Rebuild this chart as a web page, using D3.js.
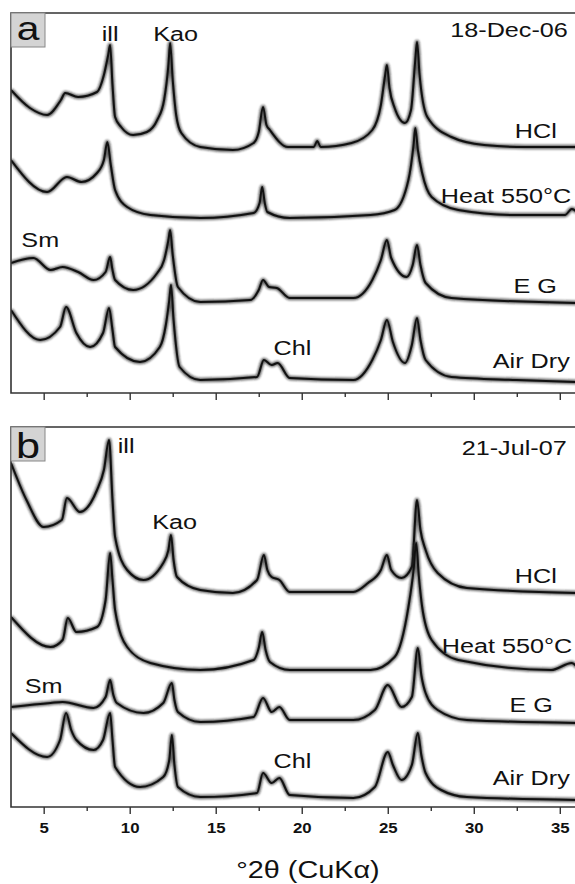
<!DOCTYPE html>
<html>
<head>
<meta charset="utf-8">
<script src="https://cdn.jsdelivr.net/npm/d3@7/dist/d3.min.js"></script>
<style>
  body { margin: 0; background: #fff; }
  svg { display: block; font-family: Arial, "Liberation Sans", sans-serif; }
</style>
</head>
<body>
<div id="chart"></div>
<script>
// XRD patterns, [°2θ, intensity (a.u., offset included)]
const twoThetaDomain = [3.1, 36];
const majorTicks = [5, 10, 15, 20, 25, 30, 35];
const minorTicks = [7.5, 12.5, 17.5, 22.5, 27.5, 32.5];

// panel a : 18-Dec-06
const aHCl = [[3.1,303],[4.2,285],[5.2,278],[6.0,293],[6.25,300],[7.0,296],[8.1,301],[8.5,318],[8.75,338],[8.86,348],[9.0,308],[9.15,276],[9.5,266],[10.2,258],[11.0,261],[11.6,273],[12.0,293],[12.25,328],[12.35,350],[12.5,313],[12.7,278],[13.0,260],[14.1,246],[16,243],[17.2,250],[17.5,261],[17.75,286],[17.95,268],[18.15,263],[19.2,246],[20.7,246],[20.9,252],[21.1,246],[22.9,250],[24.1,263],[24.6,288],[24.85,318],[24.95,328],[25.1,305],[25.4,285],[26.0,270],[26.35,283],[26.6,333],[26.7,351],[26.85,318],[27.3,276],[28.7,256],[30.6,248],[33,246],[36,246]];
const aHeat = [[3.1,233],[5.2,201],[6.35,216],[7.2,211],[8.1,220],[8.5,233],[8.7,251],[8.9,228],[9.15,203],[9.85,186],[11.2,178],[14.1,175],[17.2,180],[17.55,190],[17.7,206],[17.85,190],[18.0,181],[19.3,175],[24,178],[25.4,183],[26.2,213],[26.5,248],[26.6,265],[26.75,243],[27.0,220],[27.55,196],[29.1,183],[32.5,178],[35.3,178],[35.7,184],[36,181]];
const aEG = [[3.1,130],[4.4,135],[5.4,123],[6.1,126],[7.0,121],[7.9,113],[8.6,121],[8.86,136],[9.0,123],[9.15,113],[10.2,103],[11.6,120],[12.0,133],[12.25,153],[12.35,163],[12.5,138],[12.8,106],[14.1,91],[17.0,93],[17.5,103],[17.75,113],[18.1,106],[18.55,105],[19.3,95],[23,95],[24.1,113],[24.6,133],[24.95,153],[25.2,135],[26.1,116],[26.45,128],[26.7,148],[26.9,128],[27.2,110],[28.7,95],[36,90]];
const aAirDry = [[3.1,83],[4.8,53],[5.95,66],[6.3,86],[6.9,60],[7.7,46],[8.45,60],[8.8,85],[9.0,63],[9.15,46],[10.6,31],[11.75,46],[12.1,68],[12.3,93],[12.4,108],[12.55,73],[12.9,26],[14.1,13],[17.4,16],[17.8,33],[18.25,28],[18.6,30],[19.3,15],[23,13],[24.1,33],[24.6,53],[24.95,73],[25.3,51],[26.0,30],[26.4,48],[26.7,75],[26.9,53],[27.2,33],[28.7,16],[32.5,13],[36,11]];

// panel b : 21-Jul-07
const bHCl = [[3.1,344],[4.0,307],[5.0,280],[6.05,287],[6.35,309],[7.1,295],[8.1,317],[8.5,337],[8.8,367],[9.0,307],[9.15,270],[9.85,237],[10.8,227],[11.95,244],[12.25,257],[12.4,272],[12.55,247],[12.75,230],[14.1,217],[16,214],[17.4,227],[17.8,252],[18.0,237],[18.25,230],[18.7,227],[19.3,215],[23,215],[23.85,224],[24.6,237],[24.95,252],[25.2,237],[25.8,229],[26.4,240],[26.7,307],[26.9,277],[27.2,257],[27.9,234],[29.6,219],[36,214]];
const bHeat = [[3.1,190],[5.4,160],[6.1,167],[6.4,189],[6.9,175],[8.1,180],[8.6,207],[8.86,254],[9.0,227],[9.15,197],[9.85,160],[11.2,144],[14.1,137],[17.2,147],[17.5,159],[17.7,175],[17.9,157],[18.15,145],[19.3,137],[24,137],[25.4,150],[26.2,200],[26.5,237],[26.65,264],[26.8,232],[27.0,200],[27.55,167],[29.1,147],[34.5,137],[35.7,144],[36,140]];
const bEG = [[3.1,100],[5.4,104],[6.1,105],[7.9,99],[8.6,110],[8.86,127],[9.05,112],[9.25,104],[10.8,94],[11.95,104],[12.45,124],[12.6,107],[12.8,95],[14.1,85],[17.2,90],[17.75,109],[18.25,95],[18.7,100],[19.3,87],[23,87],[24.25,97],[25.0,122],[25.8,100],[26.4,110],[26.75,159],[26.95,132],[27.2,114],[27.9,97],[29.6,87],[36,84]];
const bAirDry = [[3.1,74],[5.2,50],[5.95,67],[6.3,94],[6.6,77],[6.9,67],[7.9,57],[8.45,67],[8.86,94],[9.0,67],[9.15,40],[10.6,20],[11.95,30],[12.3,47],[12.45,72],[12.6,42],[12.8,20],[14.1,10],[17.4,14],[17.75,34],[18.25,24],[18.7,29],[19.3,12],[23,9],[24.25,20],[25.0,55],[25.3,42],[25.8,27],[26.4,42],[26.75,74],[26.95,52],[27.2,34],[28.1,17],[29.6,10],[36,7]];

const traceNames = ['HCl', 'Heat 550°C', 'E G', 'Air Dry'];

const panels = [
  { letter: 'a', date: '18-Dec-06', top: 13, series: [aHCl, aHeat, aEG, aAirDry],
    // annotation anchors in data units [°2θ, intensity, anchor]
    marks: [['ill', 8.86, 352, 'middle'], ['Kao', 12.67, 352, 'middle'], ['Sm', 4.8, 146, 'middle'], ['Chl', 19.46, 38, 'middle']],
    names: [[34.83, 255, 'end'], [28.08, 190, 'start'], [34.83, 100, 'end'], [35.58, 25, 'end']],
    dateAt: [35.47, 356] },
  { letter: 'b', date: '21-Jul-07', top: 427, series: [bHCl, bHeat, bEG, bAirDry],
    marks: [['ill', 9.79, 354, 'middle'], ['Kao', 12.61, 278, 'middle'], ['Sm', 5.0, 114, 'middle'], ['Chl', 19.46, 39, 'middle']],
    names: [[34.83, 224, 'end'], [28.14, 154, 'start'], [34.6, 95, 'end'], [35.58, 22, 'end']],
    dateAt: [35.4, 352] }
];

const width = 575, height = 884;
const left = 11, right = 577, panelH = 380;
const stretch = 1.2; // the source figure is a bit wider than tall

const svg = d3.select('#chart').append('svg')
  .attr('width', width)
  .attr('height', height);

svg.append('rect').attr('width', width).attr('height', height).attr('fill', '#fff');

// soft blur for the noisy band around each pattern
svg.append('defs').append('filter')
  .attr('id', 'fuzz')
  .attr('x', '-5%').attr('y', '-20%').attr('width', '110%').attr('height', '140%')
  .append('feGaussianBlur').attr('stdDeviation', 0.9);

const x = d3.scaleLinear().domain(twoThetaDomain).range([left, right]);

function addText(g, str, px, py, size, anchor, weight) {
  return g.append('text')
    .attr('transform', `translate(${px},${py}) scale(${stretch},1)`)
    .attr('text-anchor', anchor)
    .attr('font-size', size)
    .attr('font-weight', weight || 'normal')
    .attr('fill', '#111')
    .text(str);
}

panels.forEach((p, pi) => {
  const bottom = p.top + panelH;
  const y = d3.scaleLinear().domain([0, 380]).range([bottom, p.top]);
  const g = svg.append('g').attr('class', `panel panel-${p.letter}`);

  const clipId = `clip-${p.letter}`;
  g.append('clipPath').attr('id', clipId)
    .append('rect').attr('x', left).attr('y', p.top).attr('width', right - left).attr('height', panelH);

  const line = d3.line()
    .x(d => x(d[0]))
    .y(d => y(d[1]))
    .curve(d3.curveMonotoneX);

  const traces = g.append('g').attr('clip-path', `url(#${clipId})`);
  p.series.forEach(s => {
    traces.append('path')
      .datum(s)
      .attr('d', line)
      .attr('fill', 'none')
      .attr('stroke', '#222')
      .attr('stroke-width', 4.5)
      .attr('stroke-opacity', 0.7)
      .attr('stroke-linejoin', 'round')
      .attr('filter', 'url(#fuzz)');
    traces.append('path')
      .datum(s)
      .attr('d', line)
      .attr('fill', 'none')
      .attr('stroke', '#111')
      .attr('stroke-width', 2)
      .attr('stroke-linejoin', 'round');
  });

  // frame (right side runs off the page)
  g.append('path')
    .attr('d', `M${right + 5},${p.top}H${left}V${bottom}H${right + 5}`)
    .attr('fill', 'none')
    .attr('stroke', '#333')
    .attr('stroke-width', 1.6);

  // ticks
  const major = d3.axisBottom(x).tickValues(majorTicks).tickSize(7).tickSizeOuter(0).tickPadding(9)
    .tickFormat(pi === 1 ? d3.format('d') : '');
  const minor = d3.axisBottom(x).tickValues(minorTicks).tickSize(4).tickSizeOuter(0).tickFormat('');
  const ax = g.append('g').attr('transform', `translate(0,${bottom})`).call(major);
  g.append('g').attr('transform', `translate(0,${bottom})`).call(minor)
    .call(a => a.select('.domain').remove())
    .selectAll('line').attr('stroke', '#333').attr('stroke-width', 1.4);
  ax.select('.domain').remove();
  ax.selectAll('line').attr('stroke', '#333').attr('stroke-width', 1.4);
  ax.selectAll('text')
    .attr('font-size', 14)
    .attr('font-weight', 'bold')
    .attr('font-family', 'Arial, "Liberation Sans", sans-serif')
    .attr('fill', '#111')
    .attr('transform', `scale(${stretch},1)`);

  // panel letter box
  g.append('rect')
    .attr('x', left).attr('y', p.top)
    .attr('width', 34).attr('height', 34)
    .attr('fill', '#d4d4d4')
    .attr('stroke', '#888')
    .attr('stroke-width', 1);
  addText(g, p.letter, left + 17, p.top + (p.letter === 'a' ? 27 : 31), p.letter === 'a' ? 34 : 36, 'middle');

  addText(g, p.date, x(p.dateAt[0]), y(p.dateAt[1]), 21, 'end');

  p.marks.forEach(m => addText(g, m[0], x(m[1]), y(m[2]), 21, m[3]));
  p.names.forEach((n, i) => addText(g, traceNames[i], x(n[0]), y(n[1]), 21, n[2]));
});

addText(svg, '°2θ (CuKα)', 308, 878, 24, 'middle');
</script>
</body>
</html>
